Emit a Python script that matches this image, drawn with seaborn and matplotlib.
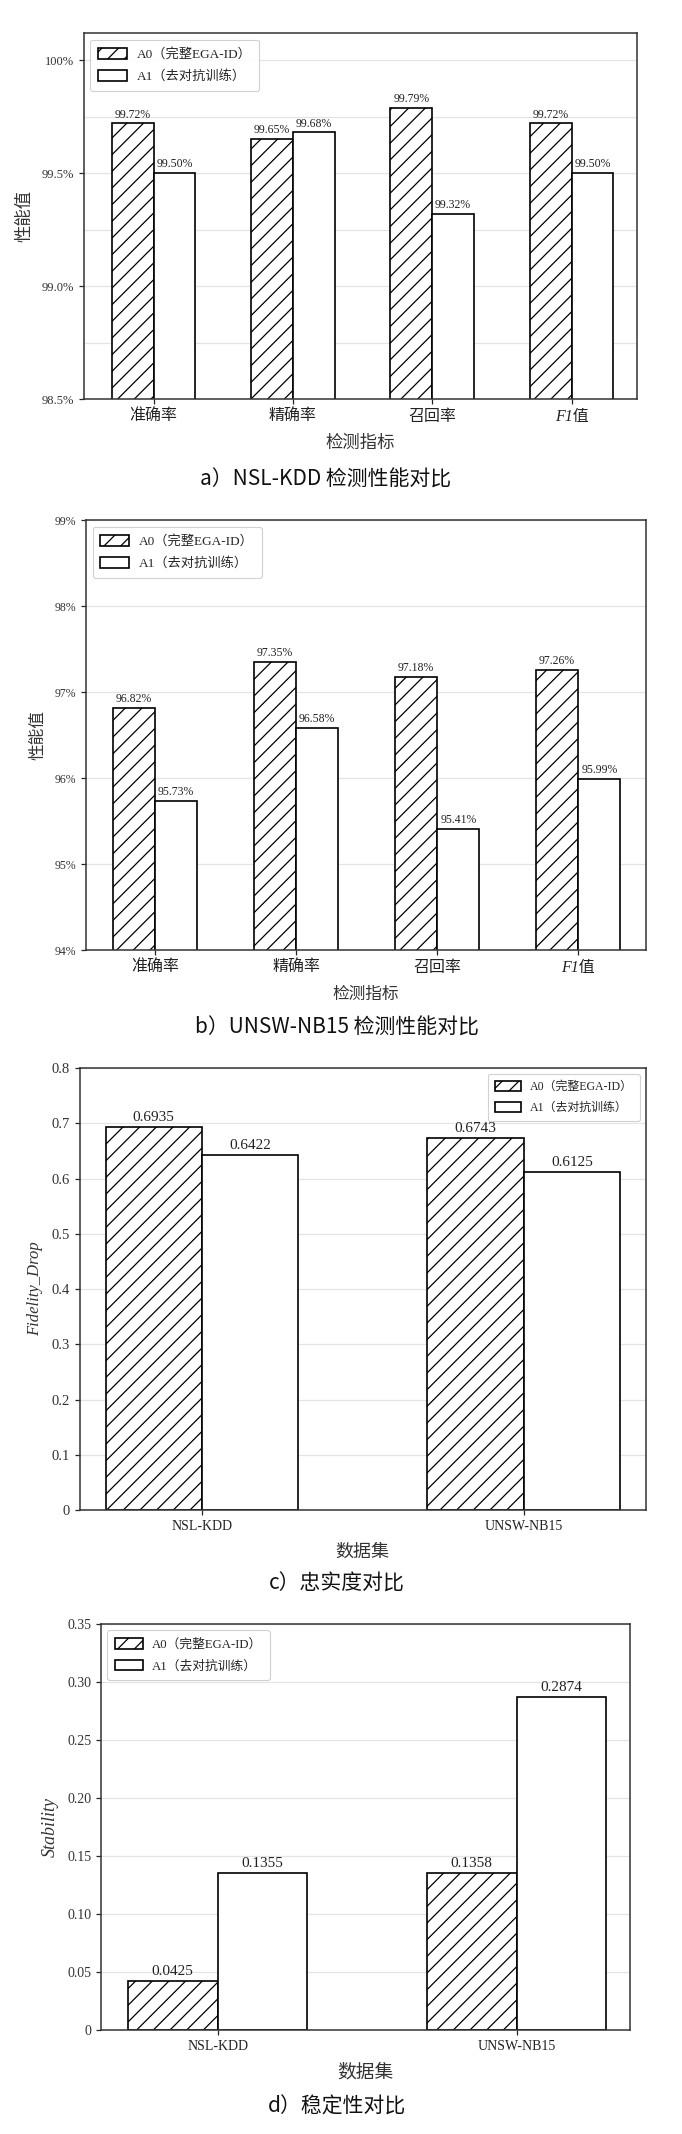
import numpy as np
import pandas as pd
import matplotlib
matplotlib.use("Agg")
import matplotlib.pyplot as plt
import matplotlib.patches as mpatches
import seaborn as sns

# ---------------- data ----------------
models = ["A0（完整EGA-ID）", "A1（去对抗训练）"]
metrics = ["准确率", "精确率", "召回率", "F1值"]
nsl_a0 = [99.72, 99.65, 99.79, 99.72]
nsl_a1 = [99.50, 99.68, 99.32, 99.50]
unsw_a0 = [96.82, 97.35, 97.18, 97.26]
unsw_a1 = [95.73, 96.58, 95.41, 95.99]
datasets = ["NSL-KDD", "UNSW-NB15"]
fid_a0 = [0.6935, 0.6743]
fid_a1 = [0.6422, 0.6125]
stab_a0 = [0.0425, 0.1358]
stab_a1 = [0.1355, 0.2874]

a_ticks = [98.5, 99.0, 99.5, 100.0]
a_ticklabels = ["98.5%", "99.0%", "99.5%", "100%"]
b_ticks = [94, 95, 96, 97, 98, 99]
b_ticklabels = ["94%", "95%", "96%", "97%", "98%", "99%"]
c_ticks = [0, 0.1, 0.2, 0.3, 0.4, 0.5, 0.6, 0.7, 0.8]
c_ticklabels = ["0", "0.1", "0.2", "0.3", "0.4", "0.5", "0.6", "0.7", "0.8"]
d_ticks = [0, 0.05, 0.10, 0.15, 0.20, 0.25, 0.30, 0.35]
d_ticklabels = ["0", "0.05", "0.10", "0.15", "0.20", "0.25", "0.30", "0.35"]

captions = ["a）NSL-KDD 检测性能对比", "b）UNSW-NB15 检测性能对比",
            "c）忠实度对比", "d）稳定性对比"]

# ---------------- style ----------------
sns.set_style("ticks")
plt.rcParams["font.family"] = ["Liberation Serif", "Noto Sans CJK SC", "DejaVu Sans"]
plt.rcParams["mathtext.fontset"] = "stix"
plt.rcParams["axes.unicode_minus"] = False
plt.rcParams["hatch.linewidth"] = 0.9

SPINE = "#333333"
GRID = "#e4e4e4"


def make_df(cats, v0, v1):
    return pd.DataFrame({
        "cat": list(cats) * 2,
        "value": list(v0) + list(v1),
        "model": [models[0]] * len(cats) + [models[1]] * len(cats),
    })


def draw_panel(ax, cats, v0, v1, fmt, ticks, ticklabels, ylim, xlim,
               xlabel, ylabel, legend_loc, fs_tick, fs_cat, fs_ann, fs_lab,
               fs_leg, fs_ylab=None, minor=None, ylab_italic=False):
    df = make_df(cats, v0, v1)
    sns.barplot(data=df, x="cat", y="value", hue="model", order=list(cats),
                hue_order=models, palette=["white", "white"], saturation=1,
                edgecolor="black", linewidth=1.2, width=0.6, gap=0,
                legend=False, ax=ax, zorder=2)
    for p in ax.containers[0]:
        p.set_hatch("//")
    for cont, vals in zip(ax.containers, (v0, v1)):
        ax.bar_label(cont, labels=[fmt(v) for v in vals], padding=2,
                     fontsize=fs_ann, color="#222222")
    ax.set_ylim(*ylim)
    ax.set_xlim(*xlim)
    ax.set_yticks(ticks)
    ax.set_yticklabels(ticklabels, fontsize=fs_tick, color="#333333")
    if minor is not None:
        ax.set_yticks(minor, minor=True)
        ax.tick_params(axis="y", which="minor", length=0)
    ax.tick_params(axis="x", labelsize=fs_cat, length=3.5, width=0.9,
                   colors="#222222")
    ax.tick_params(axis="y", which="major", length=3.5, width=0.9)
    for t in ax.get_xticklabels():
        if t.get_text().startswith("F1"):
            t.set_style("italic")
    ax.set_axisbelow(True)
    ax.grid(axis="y", which="both", color=GRID, linewidth=0.9, zorder=0)
    ax.grid(axis="x", visible=False)
    for s in ax.spines.values():
        s.set_visible(True)
        s.set_color(SPINE)
        s.set_linewidth(1.1)
    ax.set_xlabel(xlabel, fontsize=fs_lab, labelpad=8, color="#333333")
    ax.set_ylabel(ylabel, fontsize=fs_ylab or fs_lab, labelpad=6,
                  color="#333333", style="italic" if ylab_italic else "normal")
    handles = [
        mpatches.Patch(facecolor="white", edgecolor="black", hatch="//",
                       linewidth=1.2, label=models[0]),
        mpatches.Patch(facecolor="white", edgecolor="black", linewidth=1.2,
                       label=models[1]),
    ]
    leg = ax.legend(handles=handles, loc=legend_loc, fontsize=fs_leg,
                    frameon=True, fancybox=True, edgecolor="#cccccc",
                    framealpha=0.9, handlelength=2.2, handleheight=0.9,
                    borderpad=0.6, labelspacing=0.7, handletextpad=0.7)
    leg.get_frame().set_linewidth(0.8)


fig = plt.figure(figsize=(6.82, 21.34), dpi=100)
fig.patch.set_facecolor("white")

# panel a
ax_a = fig.add_axes([0.123, 0.813, 0.811, 0.1715])
draw_panel(ax_a, metrics, nsl_a0, nsl_a1, lambda v: f"{v:.2f}%",
           a_ticks, a_ticklabels, (98.5, 100.12), (-0.5, 3.47),
           "检测指标", "性能值", "upper left",
           fs_tick=9, fs_cat=11.5, fs_ann=8.5, fs_lab=12.5, fs_leg=9.5,
           minor=[98.75, 99.25, 99.75])

# panel b
ax_b = fig.add_axes([0.126, 0.5548, 0.821, 0.2015])
draw_panel(ax_b, metrics, unsw_a0, unsw_a1, lambda v: f"{v:.2f}%",
           b_ticks, b_ticklabels, (94, 99), (-0.49, 3.48),
           "检测指标", "性能值", "upper left",
           fs_tick=8.5, fs_cat=11.5, fs_ann=8.5, fs_lab=12, fs_leg=9.5)

# panel c
ax_c = fig.add_axes([0.117, 0.2924, 0.830, 0.2071])
draw_panel(ax_c, datasets, fid_a0, fid_a1, lambda v: f"{v:.4f}",
           c_ticks, c_ticklabels, (0, 0.8), (-0.38, 1.38),
           "数据集", "Fidelity_Drop", "upper right",
           fs_tick=10.5, fs_cat=10, fs_ann=11, fs_lab=13, fs_leg=8.6,
           fs_ylab=12, ylab_italic=True)

# panel d
ax_d = fig.add_axes([0.148, 0.0487, 0.776, 0.1903])
draw_panel(ax_d, datasets, stab_a0, stab_a1, lambda v: f"{v:.4f}",
           d_ticks, d_ticklabels, (0, 0.35), (-0.39, 1.38),
           "数据集", "Stability", "upper left",
           fs_tick=10, fs_cat=10, fs_ann=11, fs_lab=13.5, fs_leg=9.2,
           fs_ylab=13, ylab_italic=True)

cap_y = [1 - 480 / 2134, 1 - 1028 / 2134, 1 - 1584 / 2134, 1 - 2107 / 2134]
cap_x = [0.478, 0.494, 0.494, 0.494]
for x, y, t in zip(cap_x, cap_y, captions):
    fig.text(x, y, t, ha="center", va="center", fontsize=15,
             fontweight="medium",
             family=["Noto Sans CJK SC", "DejaVu Sans"], color="#111111")

fig.savefig("out.png", dpi=100, facecolor="white")
